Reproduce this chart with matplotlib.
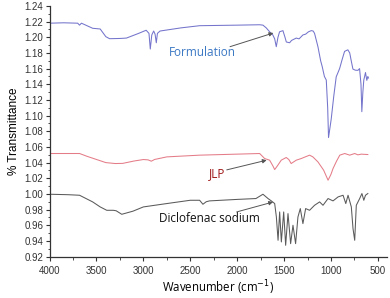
import numpy as np
import matplotlib
matplotlib.use('Agg')
import matplotlib.pyplot as plt
from matplotlib.ticker import MultipleLocator

wn_form = [4000, 3850, 3700, 3680, 3660, 3540, 3460, 3400, 3360, 3250, 3180,
           3050, 2970, 2940, 2926, 2910, 2890, 2875, 2862, 2850, 2822, 2600,
           2400, 2000, 1760, 1725, 1690, 1654, 1620, 1600, 1583, 1565, 1548,
           1512, 1490, 1476, 1441, 1420, 1370, 1340, 1299, 1270, 1240, 1210,
           1190, 1175, 1139, 1110, 1093, 1070, 1050, 1035, 1026, 1010, 997,
           970, 944, 925, 908, 880, 855, 820, 800, 784, 766, 740, 713, 695,
           680, 671, 660, 650, 632, 618, 607, 600]
t_form = [1.218, 1.2185, 1.218, 1.2155, 1.218, 1.2115, 1.2106, 1.2008, 1.1982,
          1.1985, 1.1990, 1.205, 1.209, 1.205, 1.185, 1.203, 1.208, 1.204,
          1.193, 1.205, 1.208, 1.212, 1.2148, 1.2155, 1.2160, 1.2155, 1.212,
          1.207, 1.203, 1.198, 1.188, 1.200, 1.207, 1.2085, 1.200, 1.194,
          1.193, 1.196, 1.199, 1.198, 1.203, 1.204, 1.207, 1.2085, 1.208,
          1.205, 1.188, 1.170, 1.1624, 1.150, 1.1454, 1.11, 1.072, 1.085,
          1.096, 1.125, 1.1496, 1.155, 1.160, 1.172, 1.182, 1.184, 1.180,
          1.170, 1.1594, 1.158, 1.1578, 1.160, 1.140, 1.105, 1.130, 1.1454,
          1.155, 1.145, 1.150, 1.148]

wn_jlp = [4000, 3680, 3600, 3500, 3400, 3300, 3220, 3100, 3000, 2950, 2915,
          2880, 2750, 2400, 2000, 1760, 1707, 1654, 1620, 1600, 1570, 1530,
          1477, 1450, 1424, 1370, 1317, 1280, 1228, 1193, 1139, 1078, 1031,
          1000, 978, 940, 906, 853, 800, 747, 713, 676, 640, 607]
t_jlp = [1.0516, 1.0516, 1.048, 1.0440, 1.0400, 1.0388, 1.0390, 1.042, 1.0439,
         1.0435, 1.0418, 1.0440, 1.0473, 1.0495, 1.0508, 1.0516, 1.0452,
         1.0431, 1.036, 1.0311, 1.036, 1.0431, 1.0465, 1.044, 1.0388, 1.0431,
         1.0452, 1.047, 1.0495, 1.0473, 1.0409, 1.0303, 1.0175, 1.025, 1.0324,
         1.042, 1.0495, 1.0516, 1.0495, 1.0516, 1.0499, 1.0508, 1.0505, 1.0503]

wn_dic = [4000, 3800, 3680, 3540, 3460, 3390, 3320, 3290, 3230, 3110, 3000,
          2750, 2500, 2400, 2365, 2330, 2295, 2000, 1800, 1725, 1671, 1636,
          1600, 1582, 1564, 1547, 1529, 1504, 1483, 1458, 1430, 1405, 1377,
          1352, 1327, 1299, 1270, 1228, 1175, 1121, 1085, 1031, 978, 924, 871,
          842, 818, 783, 765, 747, 730, 694, 670, 650, 632, 607]
t_dic = [0.9996, 0.9990, 0.9983, 0.9898, 0.9834, 0.9791, 0.9791, 0.9785,
         0.9740, 0.9780, 0.9834, 0.9877, 0.9919, 0.9919, 0.9868, 0.9900,
         0.9911, 0.9930, 0.9941, 0.9996, 0.9941, 0.9911, 0.9877, 0.9706,
         0.9408, 0.9770, 0.9387, 0.9770, 0.9344, 0.9749, 0.9365, 0.9600,
         0.9365, 0.9706, 0.9813, 0.9621, 0.9813, 0.9791, 0.9855, 0.9898,
         0.9855, 0.9941, 0.9911, 0.9962, 0.9983, 0.9877, 0.9983, 0.9834,
         0.9557, 0.9408, 0.9855, 0.9941, 1.0005, 0.9919, 0.9983, 1.0005]

# etiquetas: (texto, posición texto, cola flecha, punta flecha, color)
etiquetas = [
    ('Formulation', (2370, 1.180), (2076, 1.188), (1614, 1.2055), '#3b78c4'),
    ('JLP', (2210, 1.0265), (2111, 1.0307), (1685, 1.0431), '#a01818'),
    ('Diclofenac sodium', (2300, 0.968), (2005, 0.977), (1617, 0.9897), '#111111'),
]

# ── Gráfico ───────────────────────────────────────────────────────────────────

plt.rcParams['font.family'] = 'Liberation Sans'

fig = plt.figure(figsize=(3.9, 2.98), dpi=100)
ax = fig.add_axes([0.127, 0.139, 0.865, 0.841])

ax.plot(wn_form, t_form, color='#7474cc', lw=0.75)
ax.plot(wn_jlp, t_jlp, color='#e47c88', lw=0.75)
ax.plot(wn_dic, t_dic, color='#5a5a5a', lw=0.75)

ax.set_xlim(4000, 404)
ax.set_ylim(0.92, 1.24)
ax.xaxis.set_major_locator(MultipleLocator(500))
ax.xaxis.set_minor_locator(MultipleLocator(250))
ax.yaxis.set_major_locator(MultipleLocator(0.02))
ax.yaxis.set_minor_locator(MultipleLocator(0.01))
ax.yaxis.set_major_formatter(matplotlib.ticker.FormatStrFormatter('%.2f'))

for s in ['top', 'right']:
    ax.spines[s].set_visible(False)
for s in ['left', 'bottom']:
    ax.spines[s].set_color('#333333')
    ax.spines[s].set_linewidth(0.9)

ax.tick_params(which='major', direction='out', length=3, width=0.8,
               labelsize=7, colors='#333333', pad=1.5)
ax.tick_params(axis='x', which='major', pad=4)
ax.tick_params(which='minor', direction='out', length=1.8, width=0.6,
               colors='#333333')

ax.set_ylabel('% Transmittance', fontsize=8.5, labelpad=3)
ax.set_xlabel('Wavenumber (cm$^{-1}$)', fontsize=8.3, family='Open Sans',
              labelpad=1.5)

for texto, pos, cola, punta, col in etiquetas:
    ax.text(pos[0], pos[1], texto, ha='center', va='center', fontsize=8.5,
            family='Open Sans', color=col)
    ax.annotate('', xy=punta, xytext=cola,
                arrowprops=dict(arrowstyle='-|>', color='#555555', lw=0.7,
                                mutation_scale=6, shrinkA=0, shrinkB=0))

fig.savefig('out.png', dpi=100)
plt.close(fig)
